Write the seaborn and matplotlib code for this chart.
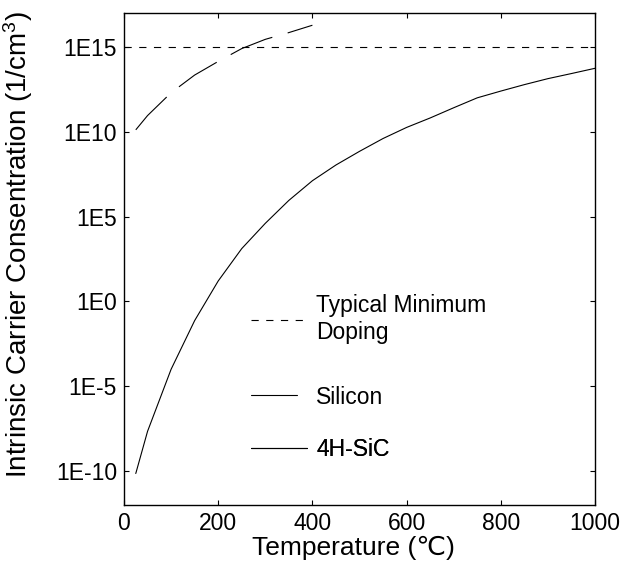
import matplotlib
matplotlib.use("Agg")
import matplotlib.pyplot as plt
import seaborn as sns
import pandas as pd
from matplotlib.lines import Line2D
from matplotlib.ticker import FixedLocator, FixedFormatter, NullLocator

# ---- data ----
si_temp = [25, 50, 100, 150, 200, 250, 300, 350, 400]
si_ni = [1.3e10, 9e10, 2e12, 2.2e13, 1.4e14, 8e14, 2.8e15, 7e15, 1.9e16]

sic_temp = [25, 50, 100, 150, 200, 250, 300, 350, 400, 450, 500,
            550, 600, 650, 700, 750, 800, 850, 900, 950, 1000]
sic_ni = [7.2e-11, 2.2e-8, 1e-4, 7.4e-2, 1.6e1, 1.3e3, 4e4, 9e5, 1.3e7, 1.1e8, 7e8,
          4e9, 1.8e10, 6.5e10, 2.6e11, 1e12, 2.5e12, 6e12, 1.35e13, 2.7e13, 5.5e13]

doping_temp = [0, 1000]
doping_ni = [1e15, 1e15]

x_ticks = [0, 200, 400, 600, 800, 1000]
y_ticks = [1e-10, 1e-5, 1e0, 1e5, 1e10, 1e15]
y_tick_labels = ["1E-10", "1E-5", "1E0", "1E5", "1E10", "1E15"]

legend_labels = ["Typical Minimum\nDoping", "Silicon", "4H-SiC"]

# ---- style ----
sns.set_theme(style="ticks")
plt.rcParams["font.family"] = ["Liberation Sans", "DejaVu Sans"]
plt.rcParams["mathtext.fontset"] = "custom"
plt.rcParams["mathtext.rm"] = "Liberation Sans"
plt.rcParams["mathtext.it"] = "Liberation Sans:italic"
plt.rcParams["lines.scale_dashes"] = False
for key in ["text.color", "axes.labelcolor", "xtick.color", "ytick.color",
            "axes.edgecolor", "legend.labelcolor"]:
    plt.rcParams[key] = "black"

fig = plt.figure(figsize=(6.27, 5.65), dpi=100)
ax = fig.add_axes([124 / 627, 60 / 565, 471 / 627, 492 / 565])

df_si = pd.DataFrame({"T": si_temp, "n": si_ni})
df_sic = pd.DataFrame({"T": sic_temp, "n": sic_ni})
df_dop = pd.DataFrame({"T": doping_temp, "n": doping_ni})

sns.lineplot(data=df_dop, x="T", y="n", ax=ax, color="black", lw=0.8)
ax.lines[-1].set_dashes((5.2, 5.4))
sns.lineplot(data=df_si, x="T", y="n", ax=ax, color="black", lw=0.8)
ax.lines[-1].set_dashes((32.5, 11.5))
sns.lineplot(data=df_sic, x="T", y="n", ax=ax, color="black", lw=0.8)

ax.set_yscale("log")
ax.set_xlim(0, 1000)
ax.set_ylim(1e-12, 1e17)

ax.xaxis.set_major_locator(FixedLocator(x_ticks))
ax.yaxis.set_major_locator(FixedLocator(y_ticks))
ax.yaxis.set_major_formatter(FixedFormatter(y_tick_labels))
ax.yaxis.set_minor_locator(NullLocator())
ax.xaxis.set_minor_locator(NullLocator())

ax.tick_params(axis="both", which="major", direction="in", length=3.5, width=0.8,
               top=True, right=True, labelsize=16.5, pad=5, colors="black")
for sp in ax.spines.values():
    sp.set_visible(True)
    sp.set_linewidth(1.0)
    sp.set_color("black")

ax.set_xlabel("Temperature (\u2103)", fontsize=19)
ax.xaxis.set_label_coords(0.487, -0.062)
ax.set_ylabel("Intrinsic Carrier Consentration (1/cm$^3$)", fontsize=20)
ax.yaxis.set_label_coords(-0.19, 0.53)

handles = [
    Line2D([], [], color="black", lw=0.8, dashes=(5.2, 5.4)),
    Line2D([], [], color="black", lw=0.8),
    Line2D([], [], color="black", lw=0.8),
]
handle_lengths = [2.4, 2.0, 2.45]
legend_y_px = [319, 397, 450]
for h, lab, hl, ypx in zip(handles, legend_labels, handle_lengths, legend_y_px):
    leg = ax.legend([h], [lab], loc="center left",
                    bbox_to_anchor=((251 - 124) / 471, (505 - ypx) / 492),
                    frameon=False, fontsize=16.5, handlelength=hl,
                    handletextpad=0.45 + (2.4 - hl) if hl < 2.4 else 0.42,
                    borderpad=0, borderaxespad=0)
    ax.add_artist(leg)

fig.savefig("out.png", dpi=100)
